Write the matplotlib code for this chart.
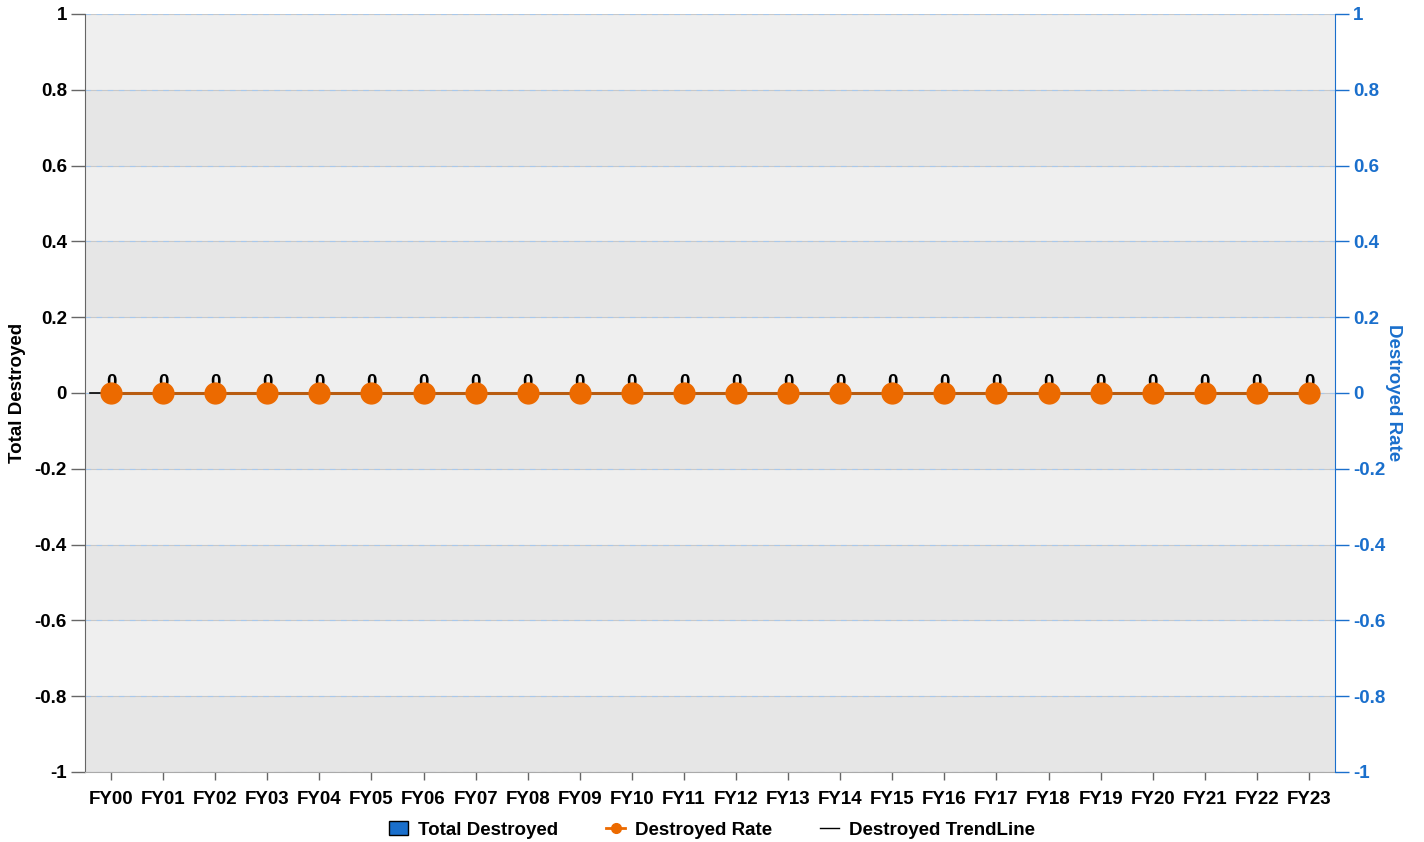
import numpy as np
import matplotlib.pyplot as plt
from matplotlib.lines import Line2D
from matplotlib.patches import Patch

plt.rcParams['font.family'] = ['Liberation Sans', 'DejaVu Sans']
plt.rcParams['font.weight'] = 'bold'

years = ['FY%02d' % i for i in range(24)]
total_destroyed = [0] * 24
destroyed_rate = [0] * 24
trend_line = [0] * 24
ytick_vals = [-1, -0.8, -0.6, -0.4, -0.2, 0, 0.2, 0.4, 0.6, 0.8, 1]
ytick_labels = ['-1', '-0.8', '-0.6', '-0.4', '-0.2', '0', '0.2', '0.4', '0.6', '0.8', '1']

blue = '#1a6fcc'
orange = '#ec6a00'
fs = 13.5

fig = plt.figure(figsize=(14.24, 8.42), dpi=100)
ax = fig.add_axes([85 / 1424, 1 - 772 / 842, 1250 / 1424, 758 / 842])
ax2 = ax.twinx()

x = np.arange(len(years))

# alternating bands + grid
for i in range(len(ytick_vals) - 1):
    c = '#efefef' if i % 2 == 1 else '#e6e6e6'
    ax.axhspan(ytick_vals[i], ytick_vals[i + 1], color=c, zorder=0, lw=0)
for t in ytick_vals:
    ax.axhline(t, color='#c8c8c8', lw=0.8, zorder=1)
    ax.axhline(t, color='#a8c8ec', lw=0.8, ls=(0, (5, 5)), zorder=1)

ax.bar(x, total_destroyed, width=0.6, color=blue, zorder=2)
for xi, v in zip(x, total_destroyed):
    ax.text(xi, v + 0.006, str(v), ha='center', va='bottom', fontsize=fs, zorder=2)
ax.plot([-0.4, 23.2], [trend_line[0], trend_line[-1]], color='black', lw=1.2, zorder=3)
ax2.plot(x, destroyed_rate, color='#b85c10', lw=2.2, zorder=4)
ax2.plot(x, destroyed_rate, 'o', color=orange, markersize=15, zorder=5)

ax.set_xlim(-0.5, 23.5)
ax.set_ylim(-1, 1)
ax2.set_ylim(-1, 1)
ax.set_yticks(ytick_vals)
ax.set_yticklabels(ytick_labels)
ax2.set_yticks(ytick_vals)
ax2.set_yticklabels(ytick_labels)
ax.set_xticks(x)
ax.set_xticklabels(years)

ax.tick_params(axis='y', length=10, width=1, color='#666666', labelsize=fs, pad=3)
ax.tick_params(axis='x', length=6, width=1, color='#666666', labelsize=fs, pad=8)
ax2.tick_params(axis='y', length=10, width=1, color=blue, labelcolor=blue, labelsize=fs, pad=3)

for s in ['top', 'right']:
    ax.spines[s].set_visible(False)
ax.spines['left'].set_color('#666666')
ax.spines['bottom'].set_color('#aaaaaa')
ax2.spines['top'].set_visible(False)
ax2.spines['left'].set_visible(False)
ax2.spines['bottom'].set_visible(False)
ax2.spines['right'].set_color(blue)

ax.set_ylabel('Total Destroyed', fontsize=fs, fontweight='bold', labelpad=6)
ax2.set_ylabel('Destroyed Rate', fontsize=fs, fontweight='bold', color=blue, rotation=270, labelpad=12)

handles = [
    Patch(facecolor=blue, edgecolor='black', label='Total Destroyed'),
    Line2D([0], [0], color=orange, marker='o', markersize=7, lw=2, label='Destroyed Rate'),
    Line2D([0], [0], color='black', lw=1, label='Destroyed TrendLine'),
]
fig.legend(handles=handles, loc='lower center', ncol=3, frameon=False,
           bbox_to_anchor=(0.5, -0.016), fontsize=fs, handlelength=1.0,
           handletextpad=0.5, columnspacing=2.6)

fig.savefig('out.png', dpi=100)
